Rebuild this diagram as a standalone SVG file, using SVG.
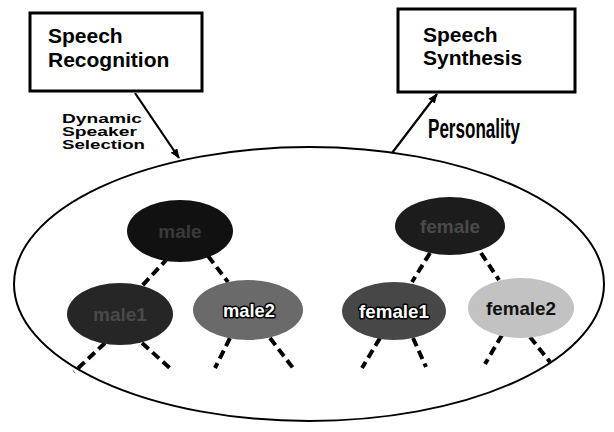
<svg xmlns="http://www.w3.org/2000/svg" width="614" height="432" viewBox="0 0 614 432">
<defs>
<marker id="ah" markerWidth="10" markerHeight="10" refX="9" refY="5" orient="auto" markerUnits="userSpaceOnUse">
<path d="M0,1 L10,5 L0,9 Z" fill="#000"/>
</marker>
<style>
.box{fill:#fff;stroke:#000;stroke-width:3}
.bt{font-family:"Liberation Sans",Arial,sans-serif;font-weight:bold;font-size:21px;fill:#000}
.lbl{font-family:"Liberation Sans",Arial,sans-serif;font-weight:bold;font-size:12.5px;fill:#000}
.pers{font-family:"Liberation Sans",Arial,sans-serif;font-weight:bold;font-size:27px;fill:#000}
.arr{stroke:#000;stroke-width:2.2;fill:none}
.dash{stroke:#000;stroke-width:4;stroke-dasharray:9 5;fill:none}
.nt{font-family:"Liberation Sans",Arial,sans-serif;font-weight:bold;font-size:19px;text-anchor:middle}
.ol{stroke:#000;stroke-width:3;paint-order:stroke;stroke-linejoin:round}
.big{fill:none;stroke:#000;stroke-width:2}
</style>
</defs>
<ellipse class="big" cx="309" cy="284" rx="295" ry="137"/>
<g id="connectors">
<line class="arr" x1="135" y1="93" x2="179" y2="158" marker-end="url(#ah)"/>
<line class="arr" x1="392" y1="153" x2="437" y2="94" marker-end="url(#ah)"/>
<line class="dash" x1="168" y1="258" x2="140" y2="288"/>
<line class="dash" x1="208" y1="256" x2="228" y2="282"/>
<line class="dash" x1="430" y1="253" x2="412" y2="282"/>
<line class="dash" x1="481" y1="253" x2="499" y2="280"/>
<line class="dash" x1="105" y1="343" x2="74" y2="372"/>
<line class="dash" x1="142" y1="343" x2="172" y2="370"/>
<line class="dash" x1="230" y1="338" x2="215" y2="368"/>
<line class="dash" x1="270" y1="338" x2="293" y2="368"/>
<line class="dash" x1="380" y1="338" x2="362" y2="368"/>
<line class="dash" x1="413" y1="338" x2="426" y2="367"/>
<line class="dash" x1="502" y1="335" x2="485" y2="364"/>
<line class="dash" x1="530" y1="337" x2="550" y2="362"/>
<text class="lbl" x="62" y="123" textLength="80" lengthAdjust="spacingAndGlyphs">Dynamic</text>
<text class="lbl" x="62" y="136" textLength="75" lengthAdjust="spacingAndGlyphs">Speaker</text>
<text class="lbl" x="62" y="148.5" textLength="83" lengthAdjust="spacingAndGlyphs">Selection</text>
<text class="pers" x="428" y="138" textLength="92" lengthAdjust="spacingAndGlyphs">Personality</text>
</g>
<g id="speech-recognition">
<rect class="box" x="30" y="13" width="172" height="78"/>
<text class="bt" x="48" y="43">Speech</text>
<text class="bt" x="48" y="67">Recognition</text>
</g>
<g id="speech-synthesis">
<rect class="box" x="398" y="9" width="177" height="83"/>
<text class="bt" x="423" y="42">Speech</text>
<text class="bt" x="423" y="65">Synthesis</text>
</g>
<g id="male">
<ellipse cx="180" cy="231" rx="53" ry="31" fill="#111"/>
<text class="nt" x="180" y="238" fill="#3a3a3a">male</text>
</g>
<g id="female">
<ellipse cx="450" cy="226" rx="55" ry="29" fill="#1c1c1c"/>
<text class="nt" x="450" y="233" fill="#4a4a4a">female</text>
</g>
<g id="male1">
<ellipse cx="120" cy="314" rx="53" ry="31" fill="#262626"/>
<text class="nt" x="120" y="321" fill="#4a4a4a">male1</text>
</g>
<g id="male2">
<ellipse cx="248" cy="310" rx="55" ry="30" fill="#6a6a6a"/>
<text class="nt ol" x="249" y="317" fill="#fff" textLength="52" lengthAdjust="spacingAndGlyphs">male2</text>
</g>
<g id="female1">
<ellipse cx="394" cy="311" rx="52" ry="29" fill="#474747"/>
<text class="nt ol" x="394" y="318" fill="#fff" textLength="70" lengthAdjust="spacingAndGlyphs">female1</text>
</g>
<g id="female2">
<ellipse cx="521" cy="308" rx="53" ry="30" fill="#c2c2c2"/>
<text class="nt" x="521" y="315" fill="#111" textLength="70" lengthAdjust="spacingAndGlyphs">female2</text>
</g>
</svg>
